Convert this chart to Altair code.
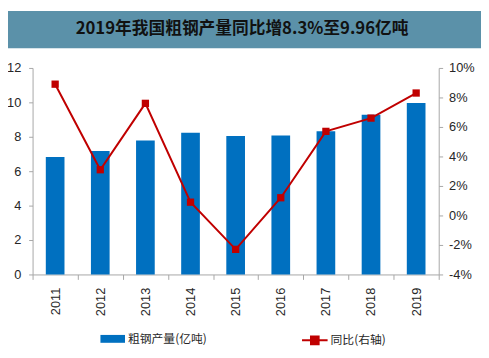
import altair as alt
import pandas as pd

TITLE = "2019年我国粗钢产量同比增8.3%至9.96亿吨"
years = ["2011", "2012", "2013", "2014", "2015", "2016", "2017", "2018", "2019"]
output = [6.83, 7.17, 7.79, 8.23, 8.04, 8.08, 8.32, 9.28, 9.96]
yoy = [8.9, 3.1, 7.6, 0.9, -2.3, 1.2, 5.7, 6.6, 8.3]
bar_name = "粗钢产量(亿吨)"
line_name = "同比(右轴)"
left_ticks = [0, 2, 4, 6, 8, 10, 12]
right_ticks = [-4, -2, 0, 2, 4, 6, 8, 10]

df = pd.DataFrame({"year": years, "output": output, "yoy": yoy,
                   "s_bar": [bar_name] * len(years), "s_line": [line_name] * len(years)})

BLUE = "#0070C0"
RED = "#C00000"
AXIS_GRAY = "#A6A6A6"
LABEL = "#262626"
NUM_FONT = "Liberation Sans"
CJK_FONT = "Noto Sans CJK SC"

x = alt.X("year:N", title=None, sort=years,
          scale=alt.Scale(paddingInner=0, paddingOuter=0),
          axis=alt.Axis(labelAngle=270, tickBand="extent", tickSize=5,
                        domainColor=AXIS_GRAY, tickColor=AXIS_GRAY,
                        labelFont=NUM_FONT, labelFontSize=13, labelColor=LABEL,
                        labelPadding=8))

base = alt.Chart(df)

title_df = pd.DataFrame({"t": [TITLE]})
title_bar = alt.Chart(title_df).mark_rect(color="#5B91A9").encode(
    x=alt.value(-25), x2=alt.value(456), y=alt.value(-58), y2=alt.value(-20))
title_text = alt.Chart(title_df).mark_text(
    font=CJK_FONT, fontSize=17, fontWeight="bold", color="#111111",
    align="center", baseline="middle").encode(
    text="t:N", x=alt.value(213), y=alt.value(-40))

bars = base.mark_bar(size=19).encode(
    x=x,
    y=alt.Y("output:Q", title=None,
            scale=alt.Scale(domain=[0, 12], nice=False),
            axis=alt.Axis(orient="left", values=left_ticks, grid=False,
                          tickSize=4, domainColor=AXIS_GRAY, tickColor=AXIS_GRAY,
                          labelFont=NUM_FONT, labelFontSize=13, labelColor=LABEL,
                          labelPadding=8)),
    color=alt.Color("s_bar:N", scale=alt.Scale(domain=[bar_name], range=[BLUE]),
                    legend=alt.Legend(title=None, orient="none", legendX=69, legendY=263,
                                      symbolType="M-1,-0.32H1V0.32H-1Z", symbolSize=625,
                                      symbolStrokeWidth=0, padding=0, labelOffset=3,
                                      labelFont=CJK_FONT, labelFontSize=12, labelColor=LABEL)),
)

yr = alt.Y("yoy:Q", title=None,
           scale=alt.Scale(domain=[-4, 10], nice=False, zero=False),
           axis=alt.Axis(orient="right", values=right_ticks, grid=False,
                         labelExpr="datum.value + '%'",
                         tickSize=4, domainColor=AXIS_GRAY, tickColor=AXIS_GRAY,
                         labelFont=NUM_FONT, labelFontSize=13, labelColor=LABEL,
                         labelPadding=6))

line = base.mark_line(color=RED, strokeWidth=2).encode(x=x, y=yr)
points = base.mark_point(shape="square", filled=True, size=55, opacity=1).encode(
    x=x, y=yr,
    color=alt.Color("s_line:N", scale=alt.Scale(domain=[line_name], range=[RED]),
                    legend=alt.Legend(title=None, orient="none", legendX=273, legendY=263,
                                      symbolType="M-1,0H1M-0.3,-0.3H0.3V0.3H-0.3Z",
                                      symbolSize=676, symbolStrokeColor=RED,
                                      symbolStrokeWidth=2, symbolFillColor=RED,
                                      padding=0, labelOffset=2,
                                      labelFont=CJK_FONT, labelFontSize=12, labelColor=LABEL)),
)

right = alt.layer(line, points)

chart = alt.layer(title_bar, title_text, bars, right).resolve_scale(
    y="independent", color="independent"
).properties(
    width=413, height=210,
    autosize=alt.AutoSizeParams(type="none"),
    padding={"left": 25, "top": 58, "right": 43, "bottom": 82},
    background="white",
).configure_view(stroke=None)

chart.save("out.html", embed_options={"renderer": "svg", "actions": False})
